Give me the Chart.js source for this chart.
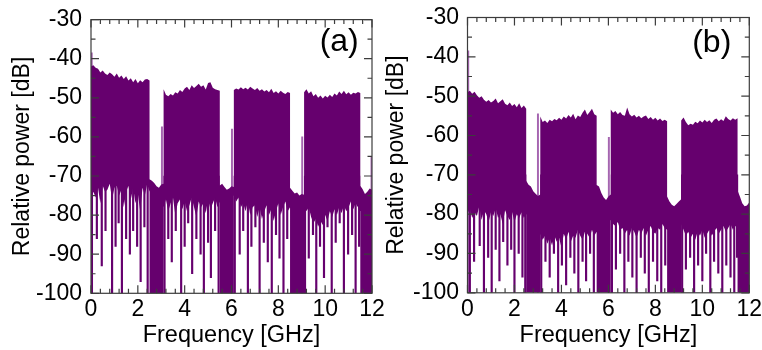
<!DOCTYPE html>
<html lang="en">
  <head>
    <meta charset="UTF-8" />
    <title>spectrum</title>
    <style>
      body {
        margin: 0;
        background: #ffffff;
      }
      .wrap {
        position: relative;
        width: 762px;
        height: 350px;
      }
      .wrap div {
        position: absolute;
        left: 0;
        top: 0;
        width: 762px;
        height: 350px;
      }
    </style>
    <script src="https://cdn.jsdelivr.net/npm/chart.js"></script>
  </head>
  <body>
    <div class="wrap">
      <div><canvas id="chartA"></canvas></div>
      <div><canvas id="chartB"></canvas></div>
    </div>

    <script>
      // frequency bins [GHz] (band edges listed twice so they come out vertical)
      const freq = [
        0, 0.1, 0.2, 0.3, 0.4, 0.5, 0.6, 0.7, 0.8, 0.9, 1, 1.1, 1.2, 1.3, 1.4, 1.5, 1.6, 1.7, 1.8, 1.9, 2, 2.1, 2.2, 2.3, 2.4, 2.5,
        2.5, 2.6, 2.7, 2.8, 2.9, 3, 3.1,
        3.1, 3.2, 3.3, 3.4, 3.5, 3.6, 3.7, 3.8, 3.9, 4, 4.1, 4.2, 4.3, 4.4, 4.5, 4.6, 4.7, 4.8, 4.9, 5, 5.1, 5.2, 5.3, 5.4, 5.5,
        5.5, 5.6, 5.7, 5.8, 5.9, 6, 6.1,
        6.1, 6.2, 6.3, 6.4, 6.5, 6.6, 6.7, 6.8, 6.9, 7, 7.1, 7.2, 7.3, 7.4, 7.5, 7.6, 7.7, 7.8, 7.9, 8, 8.1, 8.2, 8.3, 8.4, 8.5,
        8.5, 8.6, 8.7, 8.8, 8.9, 9, 9.1,
        9.1, 9.2, 9.3, 9.4, 9.5, 9.6, 9.7, 9.8, 9.9, 10, 10.1, 10.2, 10.3, 10.4, 10.5, 10.6, 10.7, 10.8, 10.9, 11, 11.1, 11.2, 11.3, 11.4, 11.5,
        11.5, 11.6, 11.7, 11.8, 11.9, 12,
      ];

      // (a) upper / lower envelope [dB]
      const upA = [
        -42.0, -41.7, -42.3, -42.6, -43.5, -43.0, -43.8, -44.2, -43.5, -44.0, -44.6, -43.8, -44.9, -44.3, -45.2, -44.5, -45.6, -45.0, -46.0, -45.2, -46.3, -45.5, -46.0, -45.3, -45.2, -45.6,
        -70.8, -71.2, -71.8, -72.6, -73.0, -72.2, -72.0,
        -47.8, -49.2, -49.6, -49.0, -49.4, -48.6, -48.9, -48.0, -48.5, -47.6, -47.2, -48.0, -46.8, -47.5, -47.0, -46.4, -47.2, -46.8, -47.9, -46.2, -46.0, -47.4, -47.8, -48.0, -48.2,
        -72.4, -72.0, -72.8, -73.5, -73.2, -72.6, -72.8,
        -48.0, -47.6, -47.9, -47.3, -47.8, -47.4, -47.9, -47.2, -47.6, -48.0, -47.5, -48.2, -47.8, -48.4, -48.0, -48.6, -47.7, -48.8, -48.3, -48.9, -48.2, -48.7, -49.0, -48.5, -48.8,
        -73.0, -73.8, -74.5, -74.2, -75.0, -74.6, -74.8,
        -48.6, -47.8, -48.9, -48.3, -49.6, -49.0, -50.0, -49.4, -50.2, -49.5, -49.9, -49.2, -49.8, -48.9, -49.4, -48.4, -49.0, -48.2, -49.1, -48.6, -49.2, -48.7, -48.9, -48.5, -48.8,
        -72.5, -73.4, -74.6, -74.0, -73.2, -73.5,
      ];
      const lowA = [
        -76, -74, -75.5, -73, -77, -72.5, -74, -73.5, -72, -76, -73, -72.5, -75, -73.5, -78, -74, -72.5, -76, -73, -77, -74.5, -79, -73, -75, -72, -74,
        -100, -100, -100, -100, -100, -100, -100,
        -78, -76, -79, -77, -75.5, -80, -77, -76, -78.5, -76.5, -79, -77.5, -75.5, -78, -80.5, -76.5, -78, -77, -79.5, -76, -78.5, -77, -75.5, -78, -76.5,
        -100, -100, -100, -100, -100, -100, -100,
        -75, -76.5, -75.5, -78, -77, -79, -76.5, -80, -78, -77.5, -80.5, -78, -81, -79, -77.5, -80, -78.5, -81.5, -79, -77, -80, -78, -76.5, -79, -78,
        -100, -100, -100, -100, -100, -100, -100,
        -77, -79, -78, -80.5, -82, -81, -83, -81.5, -82.5, -80, -81.5, -79, -80.5, -78.5, -80, -78, -79.5, -77.5, -79, -78, -76.5, -78.5, -77, -78, -79,
        -100, -100, -100, -100, -100, -100,
      ];

      // (b) upper / lower envelope [dB]
      const upB = [
        -49.0, -48.6, -49.4, -48.9, -49.8, -50.4, -50.0, -50.9, -51.4, -51.0, -51.6, -51.2, -50.6, -51.8, -51.3, -50.8, -51.9, -52.3, -51.6, -52.5, -52.0, -52.8, -51.8, -53.0, -52.4, -53.2,
        -71.5, -72.5, -73.0, -74.2, -74.8, -75.4, -75.0,
        -55.2, -56.6, -56.2, -56.8, -56.0, -56.4, -55.8, -56.1, -55.5, -56.0, -55.2, -55.7, -54.8, -55.4, -54.5, -55.9, -54.9, -55.3, -54.2, -53.4, -54.8, -54.0, -53.2, -54.6, -55.0,
        -72.6, -73.0, -74.6, -75.8, -76.4, -75.5, -75.0,
        -53.4, -54.2, -53.8, -54.6, -54.0, -54.8, -55.0, -52.9, -54.6, -55.2, -54.7, -55.4, -55.0, -55.6, -55.2, -54.9, -55.8, -55.3, -56.0, -55.5, -56.2, -55.7, -56.3, -56.0, -56.4,
        -75.5, -76.8, -77.6, -78.0, -77.4, -76.8, -76.2,
        -56.2, -55.4, -56.6, -57.4, -57.0, -57.3, -56.5, -56.9, -56.2, -56.7, -56.0, -56.6, -56.1, -56.8, -56.0, -55.7, -56.4, -55.9, -56.3, -55.1, -55.8, -56.2, -55.6, -56.0, -55.6,
        -74.0, -75.5, -77.2, -78.0, -77.8, -77.0,
      ];
      const lowB = [
        -80, -78.5, -81, -79.5, -80.5, -78, -81.5, -79, -80, -82, -79.5, -80.5, -78.5, -81, -80, -82.5, -79, -80.5, -81.5, -79.5, -82, -80, -81, -79.5, -81, -80,
        -100, -100, -100, -100, -100, -100, -100,
        -85, -86.5, -85.5, -87.5, -86, -88, -85.5, -87, -86, -88.5, -85, -86.5, -84.5, -87, -85.5, -86, -84, -85.5, -86.5, -84.5, -85, -86, -84, -85.5, -84.5,
        -100, -100, -100, -100, -100, -100, -100,
        -81.5, -82.5, -83, -82, -84, -83.5, -85, -84, -85.5, -83.5, -84.5, -86, -84, -85, -83.5, -85.5, -84, -83, -84.5, -85, -83.5, -84, -82.5, -83.5, -84,
        -100, -100, -100, -100, -100, -100, -100,
        -82.5, -84, -85.5, -84.5, -86, -85, -86.5, -84.5, -85.5, -84, -86, -85, -84, -85.5, -84.5, -83.5, -85, -84, -83, -84.5, -83.5, -82.5, -84, -83, -83.5,
        -100, -100, -100, -100, -100, -100,
      ];

      // deep dips inside the bands (frequency, lowest level)
      const spikeXA = [
        0.04, 0.25, 0.46, 0.62, 0.9, 1.05, 1.18, 1.32, 1.5, 1.66, 1.8, 1.97, 2.12, 2.28, 2.42,
        3.14, 3.3, 3.45, 3.62, 3.85, 4.0, 4.15, 4.32, 4.5, 4.68, 4.82, 5.0, 5.12, 5.3, 5.45,
        6.14, 6.35, 6.5, 6.7, 6.85, 7.02, 7.2, 7.38, 7.55, 7.72, 7.9, 8.05, 8.22, 8.38,
        9.14, 9.3, 9.48, 9.62, 9.78, 9.95, 10.1, 10.28, 10.45, 10.62, 10.8, 10.98, 11.15, 11.3, 11.45,
      ];
      const spikeLoA = [
        -100, -86, -93, -84, -100, -88, -82, -100, -86, -90, -84, -88, -97, -83, -100,
        -100, -86, -92, -84, -100, -88, -82, -95, -86, -90, -100, -87, -96, -84, -100,
        -100, -90, -84, -100, -88, -83, -100, -87, -92, -100, -85, -91, -100, -86,
        -100, -91, -85, -100, -88, -96, -83, -100, -87, -82, -100, -90, -85, -100, -88,
      ];
      const spikeXB = [
        0.1, 0.28, 0.52, 0.7, 0.88, 1.03, 1.2, 1.36, 1.52, 1.7, 1.86, 2.0, 2.18, 2.34, 2.46,
        3.14, 3.32, 3.5, 3.68, 3.86, 4.02, 4.2, 4.38, 4.55, 4.72, 4.9, 5.05, 5.22, 5.38,
        6.15, 6.32, 6.5, 6.68, 6.85, 7.02, 7.2, 7.38, 7.55, 7.72, 7.9, 8.08, 8.25, 8.42,
        9.14, 9.3, 9.48, 9.65, 9.82, 10.0, 10.16, 10.34, 10.5, 10.68, 10.85, 11.02, 11.2, 11.36, 11.48,
      ];
      const spikeLoB = [
        -100, -92, -88, -100, -91, -100, -89, -97, -87, -93, -89, -100, -90, -96, -100,
        -100, -92, -96, -90, -100, -93, -98, -91, -95, -100, -92, -97, -90, -100,
        -100, -94, -90, -100, -92, -96, -100, -91, -95, -100, -92, -97, -100, -93,
        -100, -94, -91, -100, -93, -97, -90, -100, -92, -95, -100, -93, -96, -100, -91,
      ];

      // isolated single lines at the band edges (frequency, peak level)
      const edgeXA = [0.03, 3.03, 6.02, 9.02, 11.98];
      const edgeTopA = [-38.5, -57.4, -58, -60, -65];
      const edgeXB = [0.03, 3.0, 6.02];
      const edgeTopB = [-38.5, -54.5, -60.5];

      const xMajor = [0, 2, 4, 6, 8, 10, 12];
      const yMajor = [-100, -90, -80, -70, -60, -50, -40, -30];

      const PURPLE = "#66006e";
      const LIGHT = "#a565b0";
      const FONT = "'Liberation Sans', Arial, sans-serif";

      const framePlugin = {
        id: "frame",
        afterDatasetsDraw(chart, args, opts) {
          const { ctx, chartArea: a, scales } = chart;
          const x = scales.x,
            y = scales.y;
          ctx.save();
          ctx.strokeStyle = "#3c3c3c";
          ctx.lineWidth = 1.2;
          ctx.strokeRect(a.left, a.top, a.right - a.left, a.bottom - a.top);
          ctx.beginPath();
          // x ticks, 4 minor between majors
          for (let i = 0; i < xMajor.length; i++) {
            for (let k = 0; k < 5; k++) {
              if (i === xMajor.length - 1 && k > 0) break;
              const px = x.getPixelForValue(xMajor[i] + k * 0.4);
              const len = k === 0 ? 8 : 4.5;
              ctx.moveTo(px, a.bottom);
              ctx.lineTo(px, a.bottom - len);
              ctx.moveTo(px, a.top);
              ctx.lineTo(px, a.top + len);
            }
          }
          // y ticks, one minor between majors
          for (let i = 0; i < yMajor.length; i++) {
            for (let k = 0; k < 2; k++) {
              if (i === yMajor.length - 1 && k > 0) break;
              const py = y.getPixelForValue(yMajor[i] + k * 5);
              const len = k === 0 ? 8 : 4.5;
              ctx.moveTo(a.left, py);
              ctx.lineTo(a.left + len, py);
              ctx.moveTo(a.right, py);
              ctx.lineTo(a.right - len, py);
            }
          }
          ctx.stroke();
          // panel label
          ctx.fillStyle = "#000";
          ctx.font = "32px " + FONT;
          ctx.textAlign = "center";
          ctx.textBaseline = "middle";
          ctx.fillText(opts.text, x.getPixelForValue(opts.at[0]), y.getPixelForValue(opts.at[1]));
          ctx.restore();
        },
      };

      function makeChart(id, up, low, spikeX, spikeLo, edgeX, edgeTop, cfg) {
        const ctx = document.getElementById(id).getContext("2d");
        return new Chart(ctx, {
          type: "line",
          data: {
            labels: freq,
            datasets: [
              {
                label: "upper",
                data: up,
                borderWidth: 0,
                borderColor: PURPLE,
                backgroundColor: PURPLE,
                pointRadius: 0,
                tension: 0,
                fill: "+1",
                order: 0,
              },
              {
                label: "lower",
                data: low,
                borderWidth: 0,
                borderColor: PURPLE,
                pointRadius: 0,
                tension: 0,
                fill: false,
                order: 1,
              },
              {
                type: "bar",
                label: "dips",
                data: spikeX.map((v, i) => ({ x: v, y: [spikeLo[i], -70] })),
                backgroundColor: PURPLE,
                barThickness: 1.5,
                grouped: false,
                order: 2,
              },
              {
                type: "bar",
                label: "edges",
                data: edgeX.map((v, i) => ({ x: v, y: [-100, edgeTop[i]] })),
                backgroundColor: LIGHT,
                barThickness: 1.3,
                grouped: false,
                order: 10,
              },
            ],
          },
          options: {
            responsive: true,
            maintainAspectRatio: false,
            animation: false,
            events: [],
            layout: { padding: cfg.padding },
            plugins: {
              legend: { display: false },
              tooltip: { enabled: false },
              frame: { text: cfg.text, at: cfg.at },
            },
            scales: {
              x: {
                type: "linear",
                min: 0,
                max: 12,
                offset: false,
                grid: { display: false, drawTicks: false, offset: false },
                border: { display: false },
                ticks: {
                  stepSize: 2,
                  autoSkip: false,
                  maxRotation: 0,
                  color: "#000",
                  padding: 3,
                  font: { family: FONT, size: 23 },
                },
                title: {
                  display: true,
                  text: "Frequency [GHz]",
                  color: "#000",
                  padding: { top: 1, bottom: 0 },
                  font: { family: FONT, size: 23.5 },
                },
                afterFit(s) {
                  s.height = cfg.xHeight;
                  s.paddingLeft = 0;
                  s.paddingRight = 0;
                },
              },
              y: {
                min: -100,
                max: -30,
                grid: { display: false, drawTicks: false },
                border: { display: false },
                ticks: {
                  stepSize: 10,
                  color: "#000",
                  padding: cfg.yPad,
                  font: { family: FONT, size: 23 },
                },
                title: {
                  display: true,
                  text: "Relative power [dB]",
                  color: "#000",
                  padding: { top: cfg.titlePad, bottom: 0 },
                  font: { family: FONT, size: 23 },
                },
                afterFit(s) {
                  s.width = cfg.yWidth;
                  s.paddingTop = 0;
                  s.paddingBottom = 0;
                },
              },
            },
          },
          plugins: [framePlugin],
        });
      }

      makeChart("chartA", upA, lowA, spikeXA, spikeLoA, edgeXA, edgeTopA, {
        padding: { left: 0, top: 19.6, right: 390, bottom: 0 },
        xHeight: 56.7,
        yWidth: 91,
        yPad: 9,
        titlePad: 9,
        text: "(a)",
        at: [10.6, -35.7],
      });

      makeChart("chartB", upB, lowB, spikeXB, spikeLoB, edgeXB, edgeTopB, {
        padding: { left: 381, top: 17.5, right: 12.7, bottom: 0 },
        xHeight: 57.2,
        yWidth: 86.5,
        yPad: 8.5,
        titlePad: 2,
        text: "(b)",
        at: [10.4, -36.5],
      });
    </script>
  </body>
</html>
